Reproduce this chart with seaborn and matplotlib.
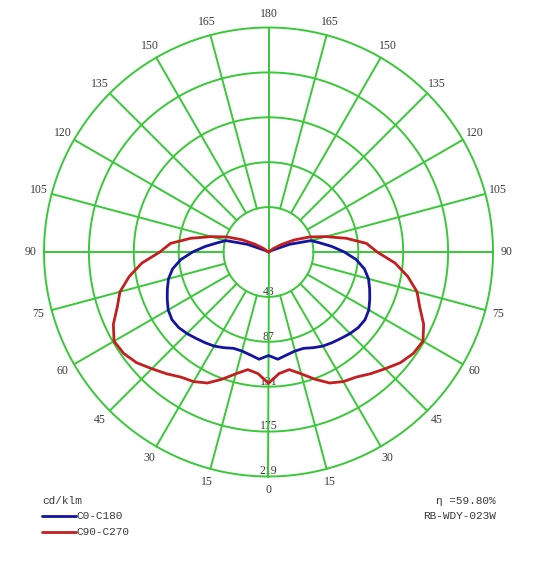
import numpy as np
import pandas as pd
import matplotlib
matplotlib.use("Agg")
import matplotlib.pyplot as plt
import seaborn as sns
from matplotlib.lines import Line2D

# ---------------- data ----------------
gamma = [0, 5, 10, 15, 20, 25, 30, 35, 40, 45, 50, 55, 60, 65, 70, 75, 80, 85, 90,
         95, 100, 105, 110, 115, 120, 125, 130, 135, 140, 145, 150, 155, 160, 165,
         170, 175, 180]
c0_c180 = [101, 105, 102, 100, 100, 103, 106, 108, 110, 112.5, 114.5, 115, 113,
           109, 105, 101, 95, 86, 74, 62, 51, 43, 22, 4, 0, 0, 0, 0, 0, 0, 0, 0,
           0, 0, 0, 0, 0]
c90_c270 = [128, 119, 116.5, 123, 132, 141, 146, 149, 155, 161, 168, 172.5, 174,
            167, 157, 150, 138, 124, 106, 96, 77, 58, 43, 28, 15, 6, 0, 0, 0, 0,
            0, 0, 0, 0, 0, 0, 0]
ring_labels = ["43", "87", "131", "175", "219"]
ring_values = [43.8, 87.6, 131.4, 175.2, 219.0]
angle_ticks = [0, 15, 30, 45, 60, 75, 90, 105, 120, 135, 150, 165, 180]
series_names = ["C0-C180", "C90-C270"]
unit_label = "cd/klm"
eta_label = "η =59.80%"
model_label = "RB-WDY-023W"

# ---------------- style ----------------
W, H = 540, 566
cx, cy, R = 268.5, 252.0, 224.5
RMAX = 223.0
RA = R * RMAX / ring_values[-1]
GREEN = "#38c838"
BLUE = "#1414a0"
RED = "#c41e1e"
TXT = "#3a3a3a"
SERIF = ["Liberation Serif", "DejaVu Serif"]
MONO = ["Liberation Mono", "DejaVu Sans Mono"]

sns.set_style("white")
fig = plt.figure(figsize=(W / 100, H / 100), dpi=100)
fig.patch.set_facecolor("white")
ax = fig.add_axes([(cx - RA) / W, (H - cy - RA) / H, 2 * RA / W, 2 * RA / H],
                  projection="polar")
ax.set_theta_zero_location("S")
ax.set_theta_direction(1)
ax.grid(False)
ax.set_xticks([])
ax.set_yticks([])
ax.spines["polar"].set_visible(False)
ax.set_facecolor("white")

# rings
th = np.linspace(0, 2 * np.pi, 721)
for rv in ring_values:
    ax.plot(th, np.full_like(th, rv), color=GREEN, lw=1.4, zorder=2)
# spokes
for a in range(0, 360, 15):
    t = np.deg2rad(a)
    r0 = 0 if a in (0, 180) else ring_values[0]
    ax.plot([t, t], [r0, ring_values[-1]], color=GREEN, lw=1.4, zorder=2)

# curves
g = np.array(gamma, dtype=float)
rows = []
for name, vals in zip(series_names, [c0_c180, c90_c270]):
    v = np.array(vals, dtype=float)
    theta = np.concatenate([-np.deg2rad(g[::-1]), np.deg2rad(g[1:])])
    rr = np.concatenate([v[::-1], v[1:]])
    for i, (t, r) in enumerate(zip(theta, rr)):
        rows.append({"series": name, "order": i, "theta": t, "r": r})
df = pd.DataFrame(rows)
sns.lineplot(data=df, x="theta", y="r", hue="series", units="series",
             estimator=None, sort=False, palette=[BLUE, RED], lw=2.0,
             ax=ax, legend=False, zorder=4)
ax.set_xlabel("")
ax.set_ylabel("")
ax.set_ylim(0, RMAX)

# angle labels
lab_r = ring_values[-1] * 238 / R
for a in angle_ticks:
    for s in ([1] if a in (0, 180) else [1, -1]):
        ax.text(np.deg2rad(s * a), lab_r, str(a), ha="center", va="center",
                fontsize=8.5, family=SERIF, color=TXT, zorder=1)

# ring value labels along the 0 axis
for lab, rv in zip(ring_labels, ring_values):
    ax.text(0, rv - 5, lab, ha="center", va="center", fontsize=8.5,
            family=SERIF, color=TXT, zorder=1)

# legend block
def fx(px):
    return px / W

def fy(py):
    return 1 - py / H

fig.text(fx(42), fy(501), unit_label, ha="left", va="center", fontsize=8,
         family=MONO, color=TXT)
for yy, col, name in [(516, BLUE, series_names[0]), (532, RED, series_names[1])]:
    fig.add_artist(Line2D([fx(42), fx(76)], [fy(yy), fy(yy)], color=col, lw=2.0,
                          transform=fig.transFigure))
    fig.text(fx(76), fy(yy), name, ha="left", va="center", fontsize=8,
             family=MONO, color=TXT)
fig.text(fx(496), fy(501), eta_label, ha="right", va="center", fontsize=8,
         family=MONO, color=TXT)
fig.text(fx(496), fy(516), model_label, ha="right", va="center", fontsize=8,
         family=MONO, color=TXT)

fig.savefig("out.png", dpi=100, facecolor="white")
